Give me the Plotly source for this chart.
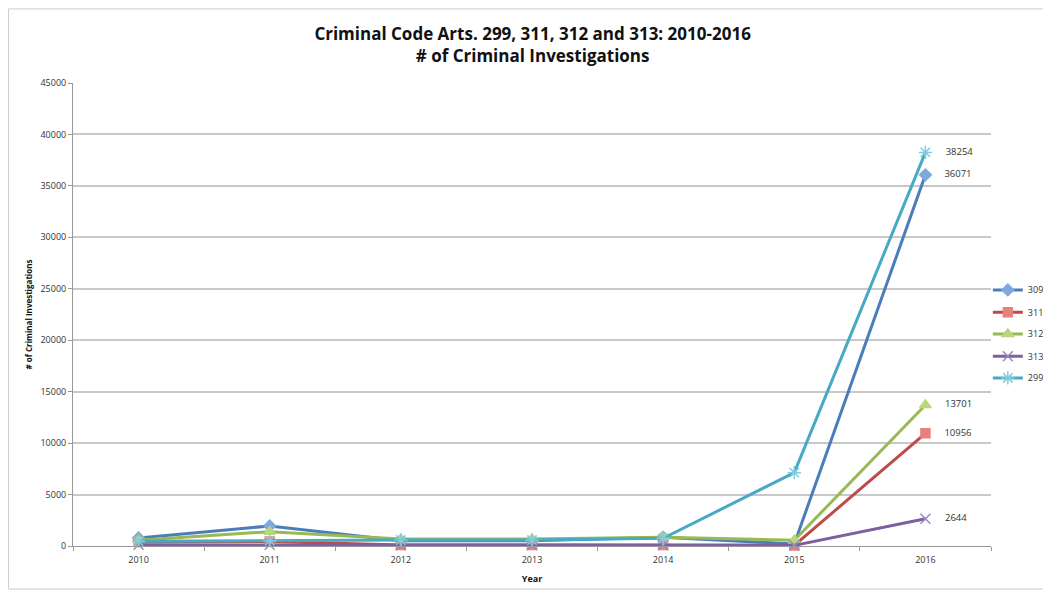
import plotly.graph_objects as go

years = ["2010", "2011", "2012", "2013", "2014", "2015", "2016"]
s309 = [780, 1950, 500, 500, 850, 200, 36071]
s311 = [420, 430, 100, 100, 100, 60, 10956]
s312 = [560, 1390, 680, 680, 850, 560, 13701]
s313 = [120, 120, 80, 80, 80, 60, 2644]
s299 = [450, 520, 580, 580, 750, 7131, 38254]

series = [
    ("309", s309, "#4A7EBB", "#7FA8DC", "diamond", 9),
    ("311", s311, "#BE4B48", "#E8807E", "square", 9),
    ("312", s312, "#98B954", "#B8D77A", "triangle-up", 10),
    ("313", s313, "#7D60A0", "#9E86BE", "x-thin-open", 10),
    ("299", s299, "#46AAC5", "#7FCBE0", "asterisk-open", 11),
]
legend_y = [0.553, 0.505, 0.458, 0.410, 0.363]

fig = go.Figure()
layout_legends = {}
for i, (name, vals, col, fill, sym, sz) in enumerate(series):
    labels = [""] * (len(vals) - 1) + ["     " + str(vals[-1])]
    lg = "legend" if i == 0 else f"legend{i+1}"
    fig.add_trace(go.Scatter(
        x=years, y=vals, name=name, mode="lines+markers+text",
        text=labels, textposition="middle right",
        textfont=dict(size=9.5, color="#333333", family="Open Sans"),
        line=dict(color=col, width=3),
        marker=dict(symbol=sym, size=sz, color=fill,
                    line=dict(color=fill, width=1.5)),
        cliponaxis=False, legend=lg,
    ))
    layout_legends[lg] = dict(
        x=1.063, y=legend_y[i], xanchor="right", yanchor="middle",
        font=dict(size=9, color="#333333", family="Open Sans"),
        itemwidth=30, bgcolor="rgba(0,0,0,0)", borderwidth=0,
    )

fig.update_layout(
    width=1043, height=582,
    paper_bgcolor="white", plot_bgcolor="white",
    margin=dict(l=65, r=60, t=75, b=44, autoexpand=False),
    title=dict(
        text="<b>Criminal Code Arts. 299, 311, 312 and 313: 2010-2016<br># of Criminal Investigations</b>",
        x=0.503, xanchor="center", y=0.945, yanchor="top",
        font=dict(size=17, color="#111111", family="Open Sans"),
    ),
    font=dict(family="Open Sans", size=9, color="#333333"),
    showlegend=True,
    **layout_legends,
)
fig.update_xaxes(
    type="category", range=[-0.5, 6.5], tickson="boundaries", ticks="outside", ticklen=4,
    tickcolor="#999999", showline=True, linecolor="#999999", linewidth=1,
    showgrid=False, tickfont=dict(size=9, color="#333333"), ticklabelstandoff=5,
    title=dict(text="<b>Year</b>", font=dict(size=9, color="#111111"), standoff=10),
)
fig.update_yaxes(
    range=[0, 45000], dtick=5000, tickformat="d", ticks="outside", ticklen=4,
    tickcolor="#999999", showline=True, linecolor="#999999", linewidth=1,
    showgrid=True, gridcolor="#C8C8C8", gridwidth=1.5, zeroline=False,
    tickfont=dict(size=9, color="#333333"),
    title=dict(text="<b># of Criminal Investigations</b>", font=dict(size=8, color="#111111"), standoff=6),
)
fig.add_shape(type="rect", xref="paper", yref="paper", x0=-0.0703, x1=1.064, y0=-0.093, y1=1.16,
              line=dict(color="#CCCCCC", width=1), layer="below")

fig.write_html("out.html")
